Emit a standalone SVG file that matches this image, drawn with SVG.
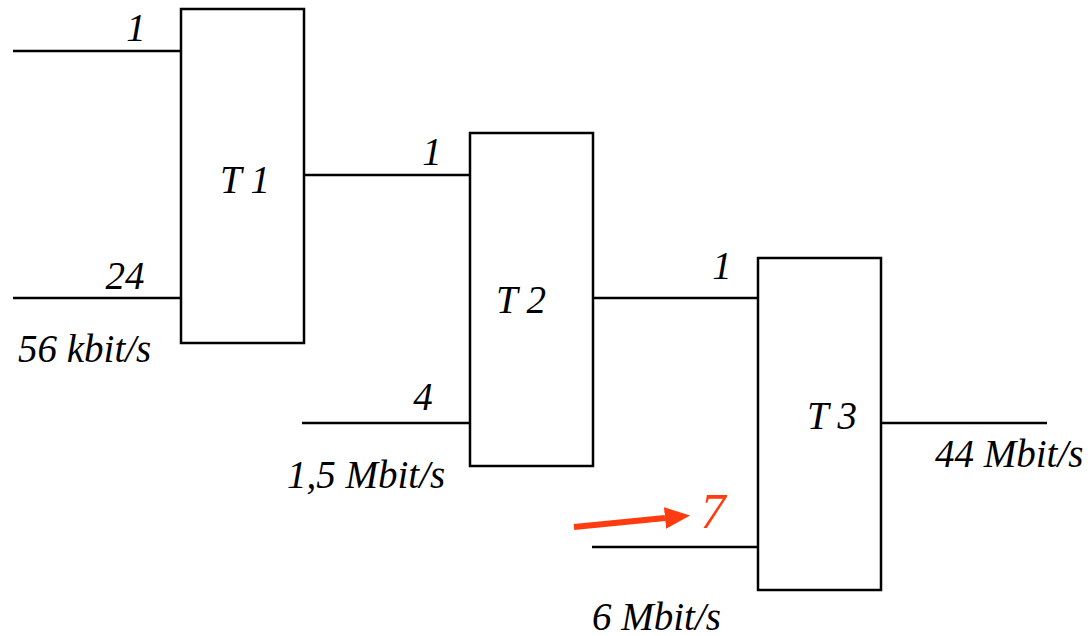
<svg xmlns="http://www.w3.org/2000/svg" width="1092" height="636" viewBox="0 0 1092 636">
<style>
.box{fill:#fff;stroke:#000;stroke-width:2.5}
.ln{stroke:#000;stroke-width:2.5;fill:none}
text{font-family:'Liberation Serif','DejaVu Serif',serif;font-style:italic;font-size:39px;fill:#000}
.red{fill:#ff3b0f;font-size:50px}
</style>
<defs>
<marker id="ah" markerWidth="4.2" markerHeight="3.6" refX="0" refY="1.8" orient="auto" markerUnits="strokeWidth">
<path d="M0,0 L4.2,1.8 L0,3.6 Z" fill="#ff3b0f"/>
</marker>
</defs>
<g id="connectors">
<line class="ln" x1="13" y1="51" x2="181" y2="51"/>
<line class="ln" x1="13" y1="298" x2="181" y2="298"/>
<line class="ln" x1="304" y1="175" x2="470" y2="175"/>
<line class="ln" x1="302" y1="423" x2="470" y2="423"/>
<line class="ln" x1="593" y1="298" x2="758" y2="298"/>
<line class="ln" x1="592" y1="547" x2="758" y2="547"/>
<line class="ln" x1="881" y1="423" x2="1047" y2="423"/>
<line x1="574" y1="527" x2="665" y2="518" stroke="#ff3b0f" stroke-width="6" marker-end="url(#ah)"/>
</g>
<g id="T1">
<rect class="box" x="181" y="9" width="123" height="334"/>
<text x="245" y="193" text-anchor="middle">T 1</text>
</g>
<g id="T2">
<rect class="box" x="470" y="133" width="123" height="333"/>
<text x="521" y="313" text-anchor="middle">T 2</text>
</g>
<g id="T3">
<rect class="box" x="758" y="258" width="123" height="332"/>
<text x="832" y="429" text-anchor="middle">T 3</text>
</g>
<g id="labels">
<text x="136" y="41" text-anchor="middle">1</text>
<text x="125" y="289" text-anchor="middle">24</text>
<text x="18" y="362">56 kbit/s</text>
<text x="432" y="165" text-anchor="middle">1</text>
<text x="423" y="410" text-anchor="middle">4</text>
<text x="287" y="488">1,5 Mbit/s</text>
<text x="722" y="279" text-anchor="middle">1</text>
<text class="red" x="713" y="528" text-anchor="middle">7</text>
<text x="592" y="630">6 Mbit/s</text>
<text x="935" y="467">44 Mbit/s</text>
</g>
</svg>
